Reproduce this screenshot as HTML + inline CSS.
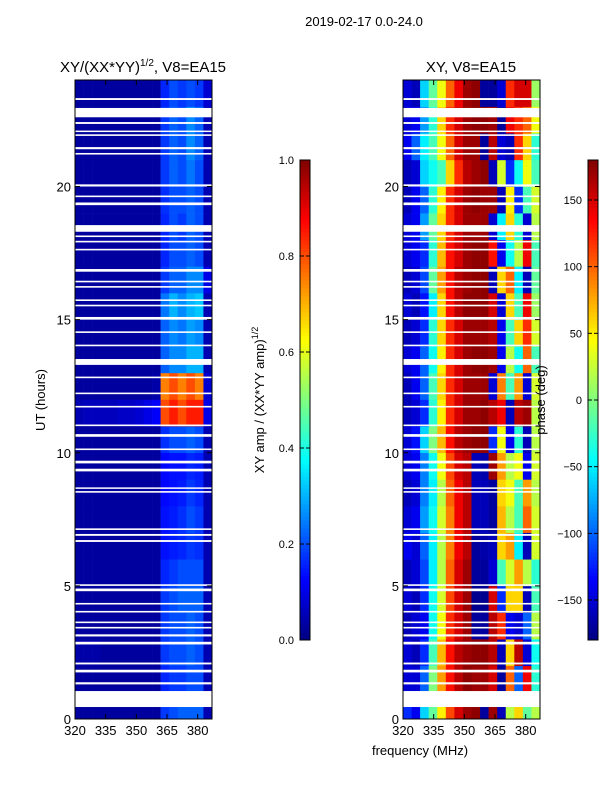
<!DOCTYPE html>
<html><head><meta charset="utf-8"><style>
body{margin:0;background:#fff;}
svg text{font-family:"Liberation Sans","DejaVu Sans",sans-serif;fill:#000;}
</style></head><body>
<svg id="fig" width="600" height="800" xmlns="http://www.w3.org/2000/svg">
<rect width="600" height="800" fill="#fff"/>
<text x="364" y="26" font-size="13" text-anchor="middle">2019-02-17 0.0-24.0</text>
<text x="143" y="72" font-size="15" text-anchor="middle">XY/(XX*YY)<tspan font-size="10" dy="-6">1/2</tspan><tspan dy="6">, V8=EA15</tspan></text>
<text x="471" y="72" font-size="15" text-anchor="middle">XY, V8=EA15</text>
<text transform="translate(45,400) rotate(-90)" font-size="13" text-anchor="middle">UT (hours)</text>
<text x="420" y="755" font-size="13" text-anchor="middle">frequency (MHz)</text>
<text transform="translate(264,400) rotate(-90)" font-size="13" text-anchor="middle">XY amp / (XX*YY amp)<tspan font-size="9" dy="-6">1/2</tspan></text>
<g id="left"></g>
<g id="right"></g>
<g id="axes"></g>
<text transform="translate(545,400) rotate(-90)" font-size="13" text-anchor="middle">phase (deg)</text>
</svg>
<script>
const freqStart = 320, freqEnd = 387;
const xTicks = [320, 335, 350, 365, 380];
const yTicks = [0, 5, 10, 15, 20];
const ampTicks = [0.0, 0.2, 0.4, 0.6, 0.8, 1.0];
const phaseTicks = [-150, -100, -50, 0, 50, 100, 150];
const ampRows = [
 [0.03,0.03,0.03,0.03,0.03,0.03,0.03,0.03,0.03,0.03,0.18,0.2,0.22,0.22,0.22,0.05],
 [0.03,0.03,0.03,0.03,0.03,0.03,0.03,0.03,0.03,0.03,0.16,0.18,0.18,0.2,0.2,0.05],
 [0.04,0.04,0.04,0.03,0.03,0.03,0.03,0.03,0.03,0.03,0.18,0.2,0.2,0.22,0.2,0.05],
 [0.03,0.03,0.03,0.03,0.03,0.03,0.03,0.03,0.03,0.03,0.18,0.2,0.2,0.22,0.2,0.05],
 [0.03,0.03,0.03,0.03,0.03,0.03,0.03,0.03,0.03,0.03,0.18,0.2,0.22,0.22,0.22,0.05],
 [0.03,0.03,0.03,0.03,0.03,0.03,0.03,0.03,0.03,0.03,0.16,0.18,0.2,0.2,0.2,0.05],
 [0.03,0.03,0.03,0.03,0.03,0.03,0.03,0.03,0.03,0.03,0.14,0.15,0.16,0.18,0.17,0.05],
 [0.03,0.03,0.03,0.03,0.03,0.03,0.03,0.03,0.03,0.03,0.14,0.15,0.17,0.2,0.18,0.05],
 [0.03,0.03,0.03,0.03,0.03,0.03,0.03,0.03,0.03,0.03,0.13,0.14,0.15,0.18,0.16,0.05],
 [0.03,0.03,0.03,0.03,0.03,0.03,0.03,0.03,0.03,0.03,0.13,0.14,0.14,0.16,0.15,0.05],
 [0.03,0.03,0.03,0.03,0.03,0.03,0.03,0.03,0.03,0.03,0.17,0.2,0.2,0.22,0.2,0.05],
 [0.05,0.06,0.06,0.06,0.06,0.07,0.07,0.08,0.1,0.12,0.8,0.85,0.8,0.85,0.85,0.1],
 [0.03,0.03,0.03,0.03,0.03,0.03,0.03,0.03,0.03,0.04,0.75,0.8,0.75,0.8,0.75,0.08],
 [0.03,0.03,0.03,0.03,0.03,0.03,0.03,0.03,0.03,0.03,0.22,0.26,0.26,0.3,0.3,0.05],
 [0.03,0.03,0.03,0.03,0.03,0.03,0.03,0.03,0.03,0.03,0.22,0.26,0.24,0.28,0.26,0.05],
 [0.03,0.03,0.03,0.03,0.03,0.03,0.03,0.03,0.03,0.03,0.24,0.3,0.26,0.3,0.32,0.05],
 [0.03,0.03,0.03,0.03,0.03,0.03,0.03,0.03,0.03,0.03,0.18,0.22,0.22,0.26,0.26,0.1],
 [0.03,0.03,0.03,0.03,0.03,0.03,0.03,0.03,0.03,0.03,0.16,0.2,0.2,0.22,0.2,0.05],
 [0.03,0.03,0.03,0.03,0.03,0.03,0.03,0.03,0.03,0.03,0.16,0.2,0.18,0.22,0.2,0.05],
 [0.03,0.03,0.03,0.03,0.03,0.03,0.03,0.03,0.03,0.03,0.17,0.2,0.2,0.22,0.2,0.05],
 [0.03,0.03,0.03,0.03,0.03,0.03,0.03,0.03,0.03,0.03,0.18,0.22,0.2,0.24,0.2,0.05],
 [0.03,0.03,0.03,0.03,0.03,0.03,0.03,0.03,0.03,0.03,0.18,0.22,0.2,0.26,0.22,0.05],
 [0.03,0.03,0.03,0.03,0.03,0.03,0.03,0.03,0.03,0.03,0.18,0.22,0.2,0.26,0.22,0.05],
 [0.03,0.03,0.03,0.03,0.03,0.03,0.03,0.03,0.03,0.03,0.16,0.2,0.18,0.2,0.18,0.08]
];
const phaseRows = [
 [-120,-140,-60,-10,50,110,150,170,175,-170,170,-160,20,60,-10,20],
 [-150,-150,-100,0,80,130,160,175,170,170,150,-170,100,-100,140,-30],
 [-150,-160,-120,-20,70,130,160,170,175,175,160,-160,60,160,-150,-40],
 [-160,-150,-140,-40,40,120,150,170,-170,-170,160,120,-140,-150,-100,20],
 [-150,-160,-120,-40,30,110,150,170,-175,-175,150,-120,60,60,-160,-20],
 [-160,-150,-110,-50,20,100,150,170,-170,-170,-150,-20,30,80,20,-30],
 [-140,-150,-100,-50,20,90,140,160,-170,-165,-160,60,80,-50,-160,30],
 [-150,-140,-80,-40,30,90,140,160,-160,-160,-170,70,20,-20,100,30],
 [-160,-150,-90,-50,20,100,140,160,-160,-160,-170,60,40,-20,80,20],
 [-150,-140,-90,-40,40,110,150,160,-160,-165,170,80,20,40,-140,30],
 [-150,-130,-60,0,70,130,160,170,175,175,-120,40,-140,-30,-160,20],
 [-160,-150,-120,-30,50,120,150,170,170,175,160,140,-160,160,170,20],
 [-160,-140,-100,-20,60,120,150,170,170,170,-150,90,-20,80,-150,30],
 [-150,-140,-100,-40,50,120,150,170,175,175,170,-140,20,-40,100,-20],
 [-160,-150,-120,-30,60,120,150,170,170,170,160,-140,-20,60,120,30],
 [-150,-160,-130,-50,60,130,160,175,175,175,150,-150,60,-20,140,10],
 [-160,-150,-110,-10,80,130,160,170,175,175,-160,60,100,-50,-160,-10],
 [-150,-140,-120,-30,70,130,150,170,175,175,130,-140,-40,20,140,-20],
 [-150,-140,-80,-10,60,120,150,170,170,170,-150,-50,60,-30,-150,20],
 [-160,-140,-100,-30,50,120,150,170,175,170,170,-160,50,-120,-20,30],
 [-160,-150,-60,-40,-20,60,120,160,170,175,-160,30,-120,-40,40,-20],
 [-140,-100,-50,-20,40,100,150,170,170,-170,160,-150,-160,120,60,-30],
 [-150,-140,-80,-30,60,120,150,170,175,175,170,-170,140,120,100,40],
 [-150,-160,-60,-10,40,100,140,170,175,-170,-170,-150,120,150,150,10]
];
const gaps = [[0.45,1.05],[1.3,1.38],[1.75,1.85],[2.05,2.12],[2.8,2.9],[3.1,3.18],[3.4,3.46],[3.6,3.66],[4.0,4.06],[4.3,4.36],[4.8,4.9],[5.0,5.06],[6.65,6.72],[6.88,6.95],[7.1,7.16],[8.5,8.56],[8.65,8.7],[9.3,9.4],[9.6,9.7],[10.1,10.16],[10.6,10.7],[11.0,11.06],[11.7,11.76],[12.2,12.26],[12.8,12.86],[13.3,13.52],[14.0,14.06],[14.5,14.56],[15.0,15.1],[15.5,15.56],[15.7,15.76],[16.2,16.26],[16.4,16.46],[16.8,16.9],[17.6,17.66],[17.9,17.96],[18.1,18.16],[18.3,18.55],[19.3,19.4],[19.6,19.66],[20.0,20.08],[21.2,21.26],[21.4,21.48],[21.9,21.96],[22.05,22.1],[22.35,22.42],[22.6,22.95],[23.25,23.32]];

const NS='http://www.w3.org/2000/svg';
function jet(v){v=Math.max(0,Math.min(1,v));
 const r=Math.max(0,Math.min(1,1.5-Math.abs(4*v-3))),g=Math.max(0,Math.min(1,1.5-Math.abs(4*v-2))),b=Math.max(0,Math.min(1,1.5-Math.abs(4*v-1)));
 return `rgb(${Math.round(r*255)},${Math.round(g*255)},${Math.round(b*255)})`;}
function mk(tag,attrs,parent){const e=document.createElementNS(NS,tag);for(const k in attrs)e.setAttribute(k,attrs[k]);parent.appendChild(e);return e;}
const yTop=80,yBot=719;
const yS=h=>yBot-(h/24)*(yBot-yTop);
function panel(gid,x0,x1,rows,norm,name){
 const g=document.getElementById(gid);
 const xS=f=>x0+(f-freqStart)/(freqEnd-freqStart)*(x1-x0);
 const nc=rows[0].length,df=(freqEnd-freqStart)/nc;
 rows.forEach((row,i)=>row.forEach((v,j)=>{
  const xa=xS(freqStart+j*df),xb=xS(freqStart+(j+1)*df);
  const r=mk('rect',{x:xa,y:yS(i+1),width:xb-xa+0.3,height:yS(i)-yS(i+1)+0.3,fill:jet(norm(v))},g);
  
  
 }));
 gaps.forEach(gp=>{
  const r=mk('rect',{x:x0,y:yS(gp[1]),width:x1-x0,height:Math.max(1.5,yS(gp[0])-yS(gp[1])),fill:'#fff'},g);
  
  
 });
 const ax=document.getElementById('axes');
 const fr=mk('rect',{x:x0,y:yTop,width:x1-x0,height:yBot-yTop,fill:'none',stroke:'#000','stroke-width':1},ax);
 
 
 xTicks.forEach(t=>{const x=xS(t);
  mk('line',{x1:x,x2:x,y1:yBot,y2:yBot-5,stroke:'#000'},ax);
  mk('line',{x1:x,x2:x,y1:yTop,y2:yTop+5,stroke:'#000'},ax);
  const tx=mk('text',{x:x,y:yBot+16,'font-size':13,'text-anchor':'middle'},ax);tx.textContent=t;
  
  
 });
 yTicks.forEach(t=>{const y=yS(t);
  mk('line',{x1:x0,x2:x0+5,y1:y,y2:y,stroke:'#000'},ax);
  mk('line',{x1:x1,x2:x1-5,y1:y,y2:y,stroke:'#000'},ax);
  const tx=mk('text',{x:x0-4,y:y+5,'font-size':13,'text-anchor':'end'},ax);tx.textContent=t;
  
  
 });
}
panel('left',75,212,ampRows,v=>v,'amp');
panel('right',403,540,phaseRows,v=>(v+180)/360,'phase');

function colorbar(x,vmin,vmax,ticks,fmt,name){
 const ax=document.getElementById('axes');
 const t0=160,t1=640,n=120;
 for(let i=0;i<n;i++){
  const r=mk('rect',{x:x,y:t1-(i+1)*(t1-t0)/n,width:10,height:(t1-t0)/n+0.5,fill:jet((i+0.5)/n)},ax);
  
  
 }
 const fr=mk('rect',{x:x,y:t0,width:10,height:t1-t0,fill:'none',stroke:'#000'},ax);
 
 
 ticks.forEach(t=>{const y=t1-(t-vmin)/(vmax-vmin)*(t1-t0);
  mk('line',{x1:x,x2:x+4,y1:y,y2:y,stroke:'#000'},ax);
  mk('line',{x1:x+10,x2:x+6,y1:y,y2:y,stroke:'#000'},ax);
  const tx=mk('text',{x:x-6,y:y+4,'font-size':11,'text-anchor':'end'},ax);tx.textContent=fmt(t);
  
  
 });
}
colorbar(300,0,1,ampTicks,t=>t.toFixed(1),'amp-colorbar');
colorbar(588,-180,180,phaseTicks,t=>t<0?'\u2212'+(-t):String(t),'phase-colorbar');
</script>
</body></html>
